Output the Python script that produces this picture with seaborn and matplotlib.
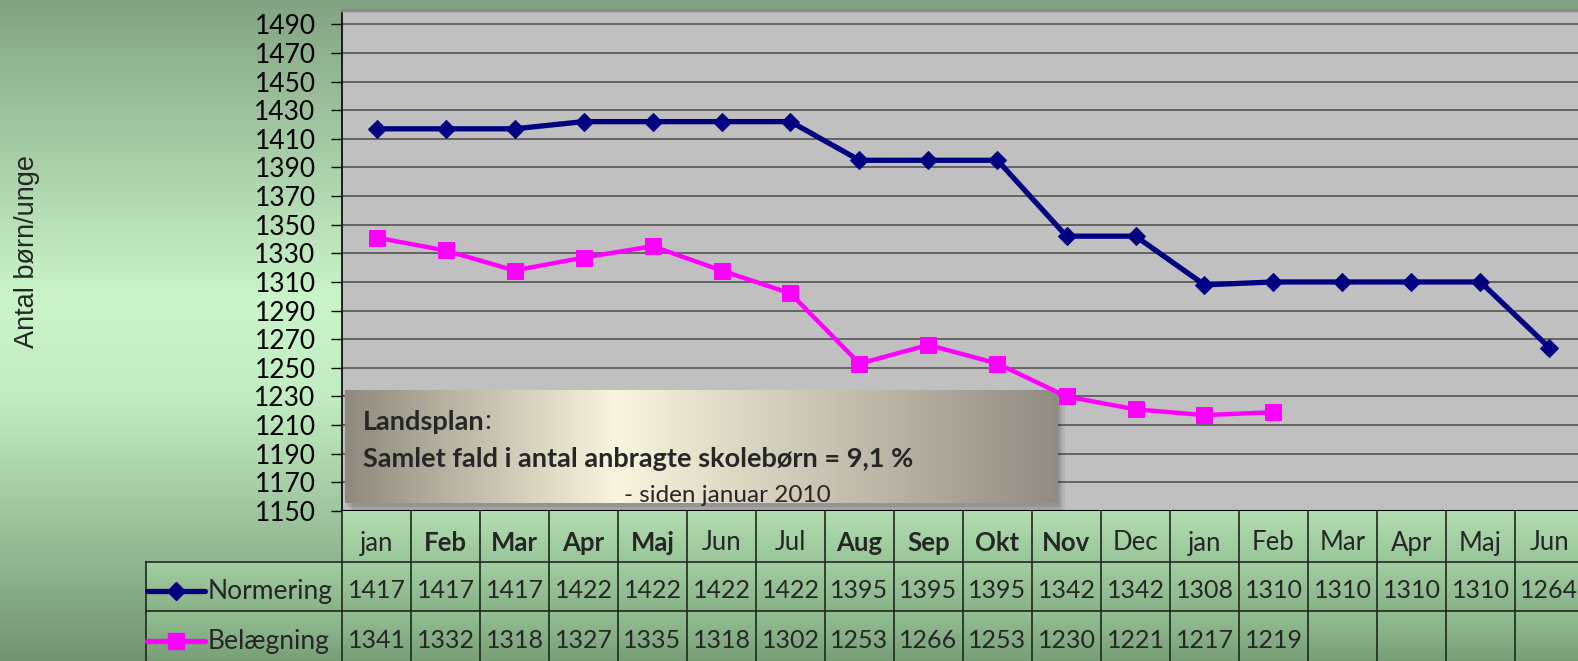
import numpy as np
import seaborn as sns
import matplotlib.pyplot as plt
from matplotlib.patches import Rectangle

# data
months = ['jan', 'Feb', 'Mar', 'Apr', 'Maj', 'Jun', 'Jul', 'Aug', 'Sep', 'Okt', 'Nov',
          'Dec', 'jan', 'Feb', 'Mar', 'Apr', 'Maj', 'Jun']
bold_months = [False, True, True, True, True, False, False, True, True, True, True,
               False, False, False, False, False, False, False]
normering = [1417, 1417, 1417, 1422, 1422, 1422, 1422, 1395, 1395, 1395, 1342,
             1342, 1308, 1310, 1310, 1310, 1310, 1264]
belaegning = [1341, 1332, 1318, 1327, 1335, 1318, 1302, 1253, 1266, 1253, 1230,
              1221, 1217, 1219]
series_names = ['Normering', 'Belægning']
y_ticks = list(range(1150, 1491, 20))

NAVY = '#000080'
MAGENTA = '#ff00ff'

sns.set_style('white')
plt.rcParams['font.family'] = ['Lato', 'DejaVu Sans']

W, H = 1578, 661
fig = plt.figure(figsize=(W / 100, H / 100), dpi=100)


def vgrad(stops, cols, n=256):
    t = np.linspace(0, 1, n)
    arr = np.stack([np.interp(t, stops, [c[i] for c in cols]) for i in range(3)], axis=-1)
    return arr[:, None, :]


def hgrad(stops, cols, n=256):
    return vgrad(stops, cols, n).transpose(1, 0, 2)


# green background
bg = fig.add_axes([0, 0, 1, 1])
bg.imshow(vgrad([0, 0.45, 0.6, 1],
                [(0.51, 0.64, 0.51), (0.79, 0.96, 0.79), (0.76, 0.93, 0.76), (0.45, 0.58, 0.45)]),
          aspect='auto', extent=[0, 1, 0, 1])
bg.set_axis_off()

# main chart
cell = 69.0
left_px, right_px = 342, 342 + 18 * cell
top_px, bot_px = 10, 511
ax = fig.add_axes([left_px / W, 1 - bot_px / H, (right_px - left_px) / W, (bot_px - top_px) / H])
ax.set_facecolor('#c0c0c0')

sns.lineplot(x=np.arange(len(normering)), y=normering, color=NAVY, linewidth=3.8,
             marker='D', markersize=9.5, markeredgecolor=NAVY, legend=False, ax=ax, zorder=3)
sns.lineplot(x=np.arange(len(belaegning)), y=belaegning, color=MAGENTA, linewidth=3.2,
             marker='s', markersize=11, markeredgecolor=MAGENTA, legend=False, ax=ax, zorder=3)

# text box
bx0, bx1 = 3 / 1241.5, 715 / 1241.5
by0, by1 = 8 / 501, 121 / 501
for k, a in enumerate([0.10, 0.08, 0.06]):
    ax.add_patch(Rectangle((bx0 + 0.002 * (k + 1), by0 - 0.008 * (k + 1)), bx1 - bx0, by1 - by0,
                           transform=ax.transAxes, facecolor='black', alpha=a,
                           edgecolor='none', zorder=2.4))
ax.imshow(hgrad([0, 0.38, 1], [(0.56, 0.54, 0.49), (0.98, 0.96, 0.87), (0.57, 0.55, 0.51)]),
          extent=(bx0, bx1, by0, by1), transform=ax.transAxes, aspect='auto', zorder=2.5)
t1 = ax.text(21 / 1241.5, 0.178, 'Landsplan', transform=ax.transAxes, fontsize=19.5,
             fontweight='bold', va='center', ha='left', zorder=4)
ax.annotate(':', xy=(1, 0), xycoords=t1, va='bottom', ha='left', fontsize=19.5, zorder=4)
ax.text(21 / 1241.5, 0.104, 'Samlet fald i antal anbragte skolebørn = 9,1 %',
        transform=ax.transAxes, fontsize=19.5, fontweight='bold', va='center', ha='left', zorder=4)
ax.text(0.310, 0.030, '- siden januar 2010', transform=ax.transAxes, fontsize=17.5,
        va='center', ha='center', zorder=4)

ax.set_xlim(-0.5, 17.5)
ax.set_ylim(1150, 1500)
ax.set_xticks([])
ax.set_yticks(y_ticks)
ax.set_yticklabels([str(v) for v in y_ticks])
ax.tick_params(axis='y', left=True, length=8, width=1, color='black', pad=11,
               labelsize=19, labelcolor='black')
ax.yaxis.grid(True, color='#555555', linewidth=1.2)
ax.set_axisbelow(True)
ax.spines['left'].set_color('black')
ax.spines['left'].set_linewidth(1.2)
ax.spines['bottom'].set_color('black')
ax.spines['bottom'].set_linewidth(1.5)
ax.spines['top'].set_color('#8a8a8a')
ax.spines['top'].set_linewidth(2.5)
ax.spines['right'].set_visible(False)
ax.set_xlabel('')
ax.set_ylabel('')

fig.text(27 / W, 1 - 252 / H, 'Antal børn/unge', rotation=90, ha='center', va='center',
         fontsize=19.5, family=['Liberation Sans', 'DejaVu Sans'])

# data table under the chart
tab_left = 145
x_left = -0.5 - (left_px - tab_left) / cell
tax = fig.add_axes([tab_left / W, 0, (right_px - tab_left) / W, 150 / H])
row_cols = [
    [(0.70, 0.87, 0.70), (0.60, 0.78, 0.60)],
    [(0.64, 0.81, 0.64), (0.53, 0.70, 0.53)],
    [(0.58, 0.75, 0.58), (0.47, 0.62, 0.47)],
]
for r, (c_top, c_bot) in enumerate(row_cols):
    x0 = -0.5 if r == 0 else x_left
    tax.imshow(vgrad([0, 1], [c_top, c_bot]), extent=(x0, 17.5, r + 0.5, r - 0.5),
               origin='upper', aspect='auto', zorder=0)

line_kw = dict(color='#1c2a1c', linewidth=1.2, zorder=2)
tax.vlines(np.arange(-0.5, 18, 1), -0.5, 2.5, **line_kw)
tax.vlines([x_left + 0.01], 0.5, 2.5, **line_kw)
tax.hlines([0.52, 1.5], x_left, 17.5, **line_kw)

for i, m in enumerate(months):
    tax.text(i, 0.14, m, ha='center', va='center', fontsize=18.5,
             fontweight='bold' if bold_months[i] else 'normal', zorder=3)
for r, vals in enumerate([normering, belaegning], start=1):
    for i, v in enumerate(vals):
        tax.text(i, r + 0.1, str(v), ha='center', va='center', fontsize=18, zorder=3)

# legend keys in the table
for r, (name, col, mk, ms) in enumerate(zip(series_names, [NAVY, MAGENTA], ['D', 's'], [9.5, 11]),
                                        start=1):
    yk = r + 0.1
    tax.plot([x_left + 2 / cell, x_left + 60 / cell], [yk, yk], color=col, linewidth=3.8, zorder=3)
    tax.plot([x_left + 31 / cell], [yk], color=col, marker=mk, markersize=ms, zorder=3)
    tax.text(x_left + 63 / cell, yk, name, ha='left', va='center', fontsize=19, zorder=3)

tax.set_xlim(x_left, 17.5)
tax.set_ylim(2.5, -0.5)
tax.set_axis_off()

fig.savefig('out.png', dpi=100)
